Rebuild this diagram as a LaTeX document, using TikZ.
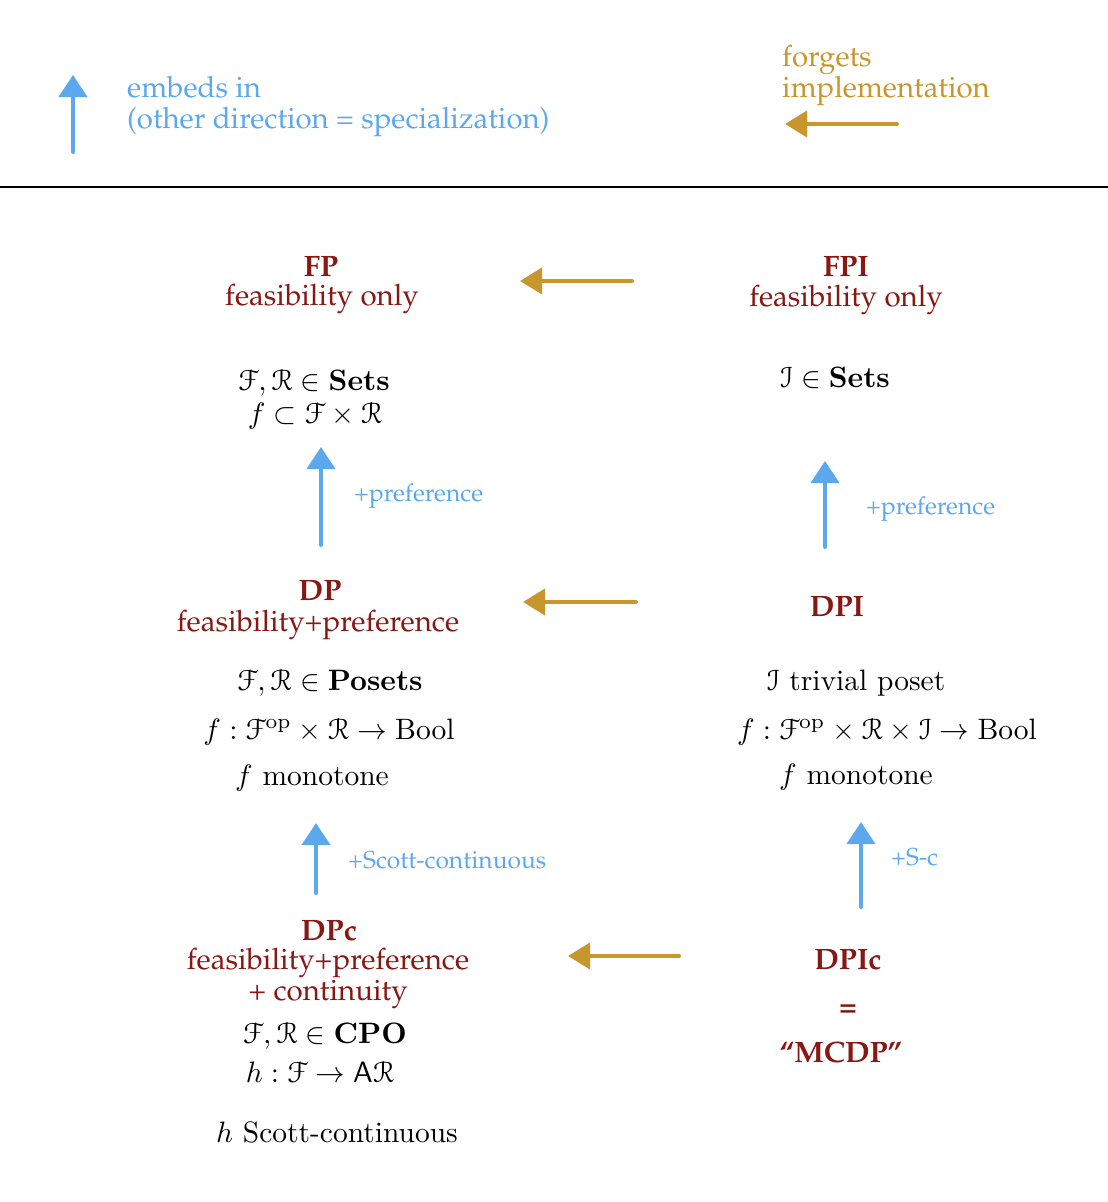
\RequirePackage{fix-cm}
\documentclass[tikz,border=0pt]{standalone}
\usepackage[T1,TU]{fontenc}
\usepackage{eucal}
\usetikzlibrary{arrows.meta}
\definecolor{dred}{RGB}{135,24,20}
\definecolor{lblue}{RGB}{92,168,238}
\definecolor{gold}{RGB}{200,150,45}
\newcommand\palfont{\fontencoding{T1}\fontfamily{ppl}\selectfont}
\newcommand\mscaled[1]{\scalebox{2.95}{#1}}
\begin{document}
\begin{tikzpicture}[x=1pt,y=-1pt,
  title/.style={anchor=base,inner sep=0pt,text=dred,font=\palfont\bfseries\fontsize{29.5}{30}\selectfont},
  sub/.style={anchor=base,inner sep=0pt,text=dred,font=\palfont\fontsize{29.5}{30}\selectfont},
  mth/.style={anchor=base,inner sep=0pt,font=\fontsize{10}{12}\selectfont},
  blab/.style={anchor=base west,inner sep=0pt,text=lblue,font=\palfont\fontsize{24.6}{26}\selectfont},
  legb/.style={anchor=base west,inner sep=0pt,text=lblue,font=\palfont\fontsize{29.4}{30}\selectfont},
  legg/.style={anchor=base west,inner sep=0pt,text=gold,font=\palfont\fontsize{29.4}{30}\selectfont},
  embarrow/.style={draw=lblue,line width=4pt,line cap=round,-{Triangle[length=22pt,width=28pt]}},
  forgarrow/.style={draw=gold,line width=4pt,line cap=round,-{Triangle[length=22pt,width=26pt]}}]
\useasboundingbox (0,0) rectangle (1108,1202);
% legend
\coordinate (lb0) at (73,152); \coordinate (lb1) at (73,75);
\draw[embarrow] (lb0) -- (lb1);
\node[legb] (leg1) at (127,97) {embeds in};
\node[legb] (leg2) at (127,128) {(other direction = specialization)};
\node[legg] (leg3) at (782,66) {forgets};
\node[legg] (leg4) at (782,97) {implementation};
\coordinate (lg0) at (897,124); \coordinate (lg1) at (785,124);
\draw[forgarrow] (lg0) -- (lg1);
\coordinate (hl0) at (0,187); \coordinate (hl1) at (1108,187);
\draw[line width=2.8pt] (hl0) -- (hl1);
% FP
\node[title] (fp) at (321,276) {FP};
\node[sub] (fps) at (322,305) {feasibility only};
\node[mth] (fp1) at (314,390) {\mscaled{$\mathcal{F},\mathcal{R}\in\mathbf{Sets}$}};
\node[mth] (fp2) at (315,423) {\mscaled{$f\subset\mathcal{F}\times\mathcal{R}$}};
% FPI
\node[title] (fpi) at (846,276) {FPI};
\node[sub] (fpis) at (846,306) {feasibility only};
\node[mth] (fpi1) at (835,387) {\mscaled{$\mathcal{I}\in\mathbf{Sets}$}};
% arrows row 1
\coordinate (g1a) at (632,281); \coordinate (g1b) at (520,281);
\draw[forgarrow] (g1a) -- (g1b);
\coordinate (b1a) at (321,545); \coordinate (b1b) at (321,447);
\draw[embarrow] (b1a) -- (b1b);
\node[blab] (b1l) at (354,501) {+preference};
\coordinate (b2a) at (825,547); \coordinate (b2b) at (825,461);
\draw[embarrow] (b2a) -- (b2b);
\node[blab] (b2l) at (866,514) {+preference};
% DP
\node[title] (dp) at (320,600) {DP};
\node[sub] (dps) at (318,631) {feasibility+preference};
\node[mth] (dp1) at (330,690) {\mscaled{$\mathcal{F},\mathcal{R}\in\mathbf{Posets}$}};
\node[mth] (dp2) at (329,739) {\mscaled{$f:\mathcal{F}^{\mathrm{op}}\times\mathcal{R}\to\mathrm{Bool}$}};
\node[mth] (dp3) at (312,785) {\mscaled{$f$ monotone}};
% DPI
\node[title] (dpi) at (837,616) {DPI};
\node[mth] (dpi1) at (856,690) {\mscaled{$\mathcal{I}$ trivial poset}};
\node[mth] (dpi2) at (887,739) {\mscaled{$f:\mathcal{F}^{\mathrm{op}}\times\mathcal{R}\times\mathcal{I}\to\mathrm{Bool}$}};
\node[mth] (dpi3) at (856,784) {\mscaled{$f$ monotone}};
\coordinate (g2a) at (636,602); \coordinate (g2b) at (523,602);
\draw[forgarrow] (g2a) -- (g2b);
% row 2 arrows
\coordinate (b3a) at (316,893); \coordinate (b3b) at (316,823);
\draw[embarrow] (b3a) -- (b3b);
\node[blab] (b3l) at (348,868) {+Scott-continuous};
\coordinate (b4a) at (861,907); \coordinate (b4b) at (861,822);
\draw[embarrow] (b4a) -- (b4b);
\node[blab] (b4l) at (891,865) {+S-c};
% DPc
\node[title] (dpc) at (329,940) {DPc};
\node[sub] (dpcs) at (328,969) {feasibility+preference};
\node[sub] (dpct) at (328,1000) {+ continuity};
\node[mth] (dpc1) at (325,1043) {\mscaled{$\mathcal{F},\mathcal{R}\in\mathbf{CPO}$}};
\node[mth] (dpc2) at (320,1082) {\mscaled{$h:\mathcal{F}\to\mathsf{A}\mathcal{R}$}};
\node[mth] (dpc3) at (337,1142) {\mscaled{$h$ Scott-continuous}};
% DPIc
\node[title] (dpic) at (848,969) {DPIc};
\node[title] (dpiceq) at (848,1016) {=};
\node[title] (mcdp) at (841,1062) {``MCDP''};
\coordinate (g3a) at (679,956); \coordinate (g3b) at (568,956);
\draw[forgarrow] (g3a) -- (g3b);
\end{tikzpicture}
\end{document}
